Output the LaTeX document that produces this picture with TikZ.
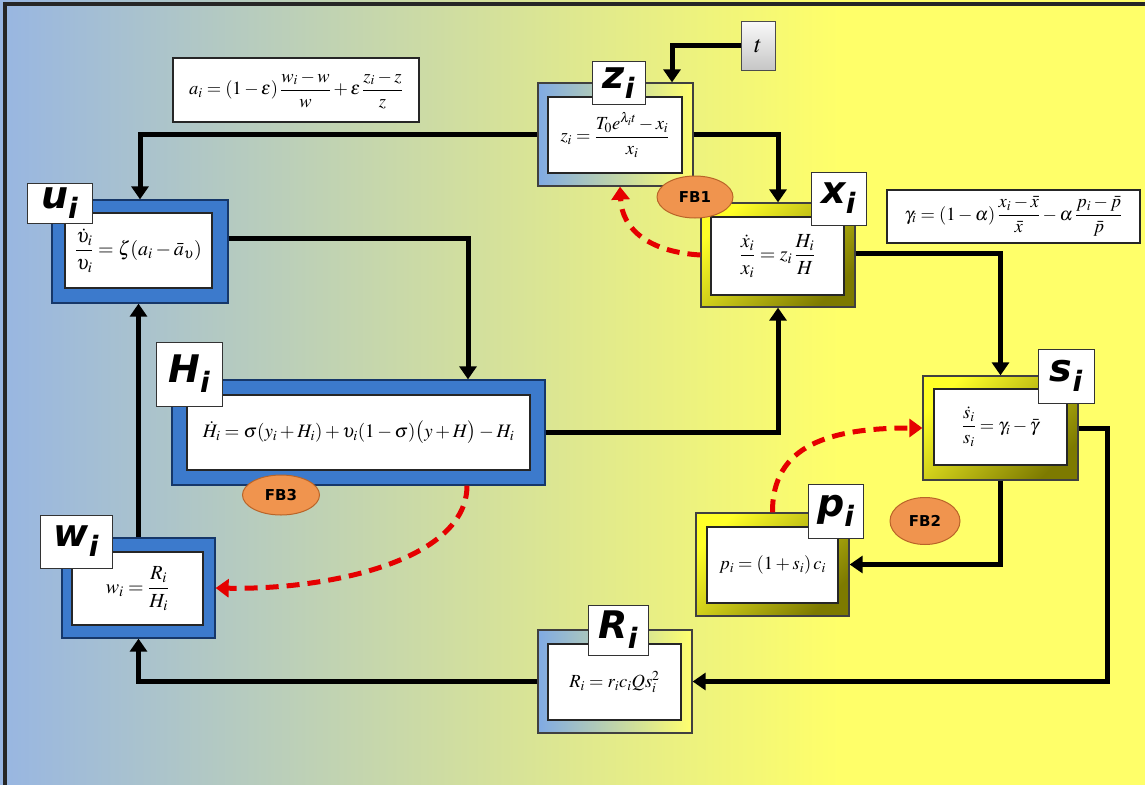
\documentclass[tikz,border=0pt]{standalone}
\usepackage{amsmath}
\usepackage{mathptmx}
\usepackage[no-math]{fontspec}
\setmainfont{Liberation Serif}
\newfontfamily\lblfont{DejaVu Sans}
\usetikzlibrary{arrows.meta,calc,shapes.geometric}

\definecolor{bgL}{RGB}{152,182,226}
\definecolor{bgM}{RGB}{205,222,168}
\definecolor{bgR}{RGB}{255,255,105}
\definecolor{blueF}{RGB}{60,122,204}
\definecolor{blueD}{RGB}{22,55,105}
\definecolor{yelA}{RGB}{255,255,40}
\definecolor{yelB}{RGB}{225,225,10}
\definecolor{yelC}{RGB}{125,122,0}
\definecolor{gradL}{RGB}{128,170,228}
\definecolor{gradR}{RGB}{255,255,110}
\definecolor{fbFill}{RGB}{240,148,78}
\definecolor{fbLine}{RGB}{185,100,40}

\newcommand\eqsize{\fontsize{18.5}{22}\selectfont}
\newcommand\eqbig{\fontsize{20}{24}\selectfont}
\newcommand\boxlabel[1]{{\fontsize{38}{38}\selectfont #1}\raisebox{-10pt}{\fontsize{28}{28}\selectfont i}}

\tikzset{
  frameblue/.style={draw=blueD, line width=1.3pt, fill=blueF, inner sep=0pt},
  frameyel/.style={draw=black!75, line width=1.3pt, inner sep=0pt, shade,
    top color=yelA, middle color=yelB, bottom color=yelC, shading angle=45},
  framegrad/.style={draw=black!75, line width=1.3pt, inner sep=0pt, shade,
    left color=gradL, right color=gradR},
  eqbox/.style={draw=black!85, line width=1.3pt, fill=white, inner sep=0pt, font=\eqsize},
  infobox/.style={draw=black!85, line width=1.3pt, fill=white, inner sep=0pt, font=\eqsize},
  lblbox/.style={draw=black!80, line width=1pt, fill=white, inner sep=0pt,
    font=\lblfont\bfseries\itshape},
  conn/.style={line width=5pt, black, -{Triangle[width=17pt,length=13pt]}},
  fbarrow/.style={line width=5pt, red!90!black, dash pattern=on 13pt off 8pt,
    -{Triangle[width=18pt,length=13pt]}},
  fbtag/.style={ellipse, draw=fbLine, fill=fbFill, line width=1pt, inner sep=0pt,
    font=\lblfont\bfseries\fontsize{15}{15}\selectfont}
}

\begin{document}
\begin{tikzpicture}[x=1pt,y=-1pt]
\useasboundingbox (0,0) rectangle (1145,784);

% background wash and frame
\shade[left color=bgL, middle color=bgM, right color=bgR] (0,0) rectangle (840,790);
\fill[bgR] (840,0) rectangle (1150,790);
\draw[line width=3.5pt, black!85] (5,800) -- (5,4) -- (1160,4);

% stage frames
\node[frameblue, minimum width=176pt, minimum height=103pt] (U) at (140,251.5) {};
\node[frameblue, minimum width=373pt, minimum height=105pt] (H) at (358.5,432.5) {};
\node[frameblue, minimum width=153pt, minimum height=100pt] (W) at (138.5,588) {};
\node[framegrad, minimum width=155pt, minimum height=103pt] (Z) at (615.5,134.5) {};
\node[framegrad, minimum width=154pt, minimum height=103pt] (R) at (615,681.5) {};
\node[frameyel, minimum width=154pt, minimum height=104pt] (X) at (778,255) {};
\node[frameyel, minimum width=155pt, minimum height=104pt] (S) at (1000.5,428) {};
\node[frameyel, minimum width=153pt, minimum height=103pt] (P) at (772.5,564.5) {};

% equations
\node[eqbox, minimum width=147pt, minimum height=75pt, font=\eqbig] (Ue) at (138.5,250.5)
  {$\dfrac{\dot{\upsilon}_i}{\upsilon_i}=\zeta(a_i-\bar{a}_{\upsilon})$};
\node[eqbox, minimum width=343pt, minimum height=75pt, font=\fontsize{19}{22}\selectfont] (He) at (358.5,432.5)
  {$\dot{H}_i=\sigma(y_i+H_i)+\upsilon_i(1-\sigma)\bigl(y+H\bigr)-H_i$};
\node[eqbox, minimum width=131pt, minimum height=73pt, font=\eqbig] (We) at (137.5,588.5)
  {$w_i=\dfrac{R_i}{H_i}$};
\node[eqbox, minimum width=134pt, minimum height=76pt] (Ze) at (615,135)
  {$z_i=\dfrac{T_0e^{\lambda_i t}-x_i}{x_i}$};
\node[eqbox, minimum width=133pt, minimum height=76pt] (Re) at (614.5,682)
  {$R_i=r_ic_iQs_i^2$};
\node[eqbox, minimum width=133pt, minimum height=78pt, font=\eqbig] (Xe) at (777.5,256)
  {$\dfrac{\dot{x}_i}{x_i}=z_i\,\dfrac{H_i}{H}$};
\node[eqbox, minimum width=133pt, minimum height=76pt] (Se) at (1000.5,427)
  {$\dfrac{\dot{s}_i}{s_i}=\gamma_i-\bar{\gamma}$};
\node[eqbox, minimum width=131pt, minimum height=76pt] (Pe) at (772.5,565)
  {$p_i=(1+s_i)\,c_i$};

% side definitions
\node[infobox, minimum width=246pt, minimum height=64pt] (A) at (296,90)
  {$a_i=(1-\varepsilon)\,\dfrac{w_i-w}{w}+\varepsilon\,\dfrac{z_i-z}{z}$};
\node[infobox, minimum width=253pt, minimum height=53pt] (G) at (1013.5,216.5)
  {$\gamma_i=(1-\alpha)\,\dfrac{x_i-\bar{x}}{\bar{x}}-\alpha\,\dfrac{p_i-\bar{p}}{\bar{p}}$};

% time input
\node[draw=black!70, line width=1pt, shade, top color=gray!5, bottom color=gray!45,
  minimum width=34pt, minimum height=48pt, inner sep=0pt,
  font=\fontsize{24}{24}\selectfont] (T) at (758,46) {$t$};

% flows
\draw[conn] (T.west) -| ([xshift=56.5pt]Z.north);
\draw[conn] (Z.west) -| (U.north);
\draw[conn] (Z.east) -| (X.north);
\draw[conn] ([yshift=13.5pt]U.east) -| ([xshift=109.5pt]H.north);
\draw[conn] (H.east) -| (X.south);
\draw[conn] ([yshift=2pt]X.east) -| (S.north);
\draw[conn] (S.east) -- ++(29,0) |- (R.east);
\draw[conn] (S.south) |- (P.east);
\draw[conn] (R.west) -| (W.south);
\draw[conn] (W.north) -- (W.north |- U.south);

% feedback loops
\draw[fbarrow] (X.west) .. controls (650,252) and (622,230) .. ([xshift=4.5pt]Z.south);
\draw[fbarrow] (P.north) .. controls (772,445) and (830,428) .. (S.west);
\draw[fbarrow] ([xshift=108.5pt]H.south) .. controls (467,560) and (330,590) .. (W.east);

% stage labels
\node[lblbox, minimum width=65pt, minimum height=40pt] (Ul) at (59.5,203) {\boxlabel{u}};
\node[lblbox, minimum width=66pt, minimum height=64pt] (Hl) at (189,374) {\boxlabel{H}};
\node[lblbox, minimum width=72pt, minimum height=53pt] (Wl) at (76,541.5) {\boxlabel{w}};
\node[lblbox, minimum width=53pt, minimum height=42pt] (Zl) at (618.5,83) {\boxlabel{z}};
\node[lblbox, minimum width=60pt, minimum height=50pt] (Rl) at (618,630) {\boxlabel{R}};
\node[lblbox, minimum width=55pt, minimum height=53pt] (Xl) at (838.5,198.5) {\boxlabel{x}};
\node[lblbox, minimum width=56pt, minimum height=54pt] (Sl) at (1066,376) {\boxlabel{s}};
\node[lblbox, minimum width=55pt, minimum height=54pt] (Pl) at (835.5,511) {\boxlabel{p}};

% feedback tags
\node[fbtag, minimum width=76pt, minimum height=42pt] (F1) at (695,197) {FB1};
\node[fbtag, minimum width=70pt, minimum height=47pt] (F2) at (925,521) {FB2};
\node[fbtag, minimum width=77pt, minimum height=40pt] (F3) at (281,495) {FB3};
\end{tikzpicture}
\end{document}
